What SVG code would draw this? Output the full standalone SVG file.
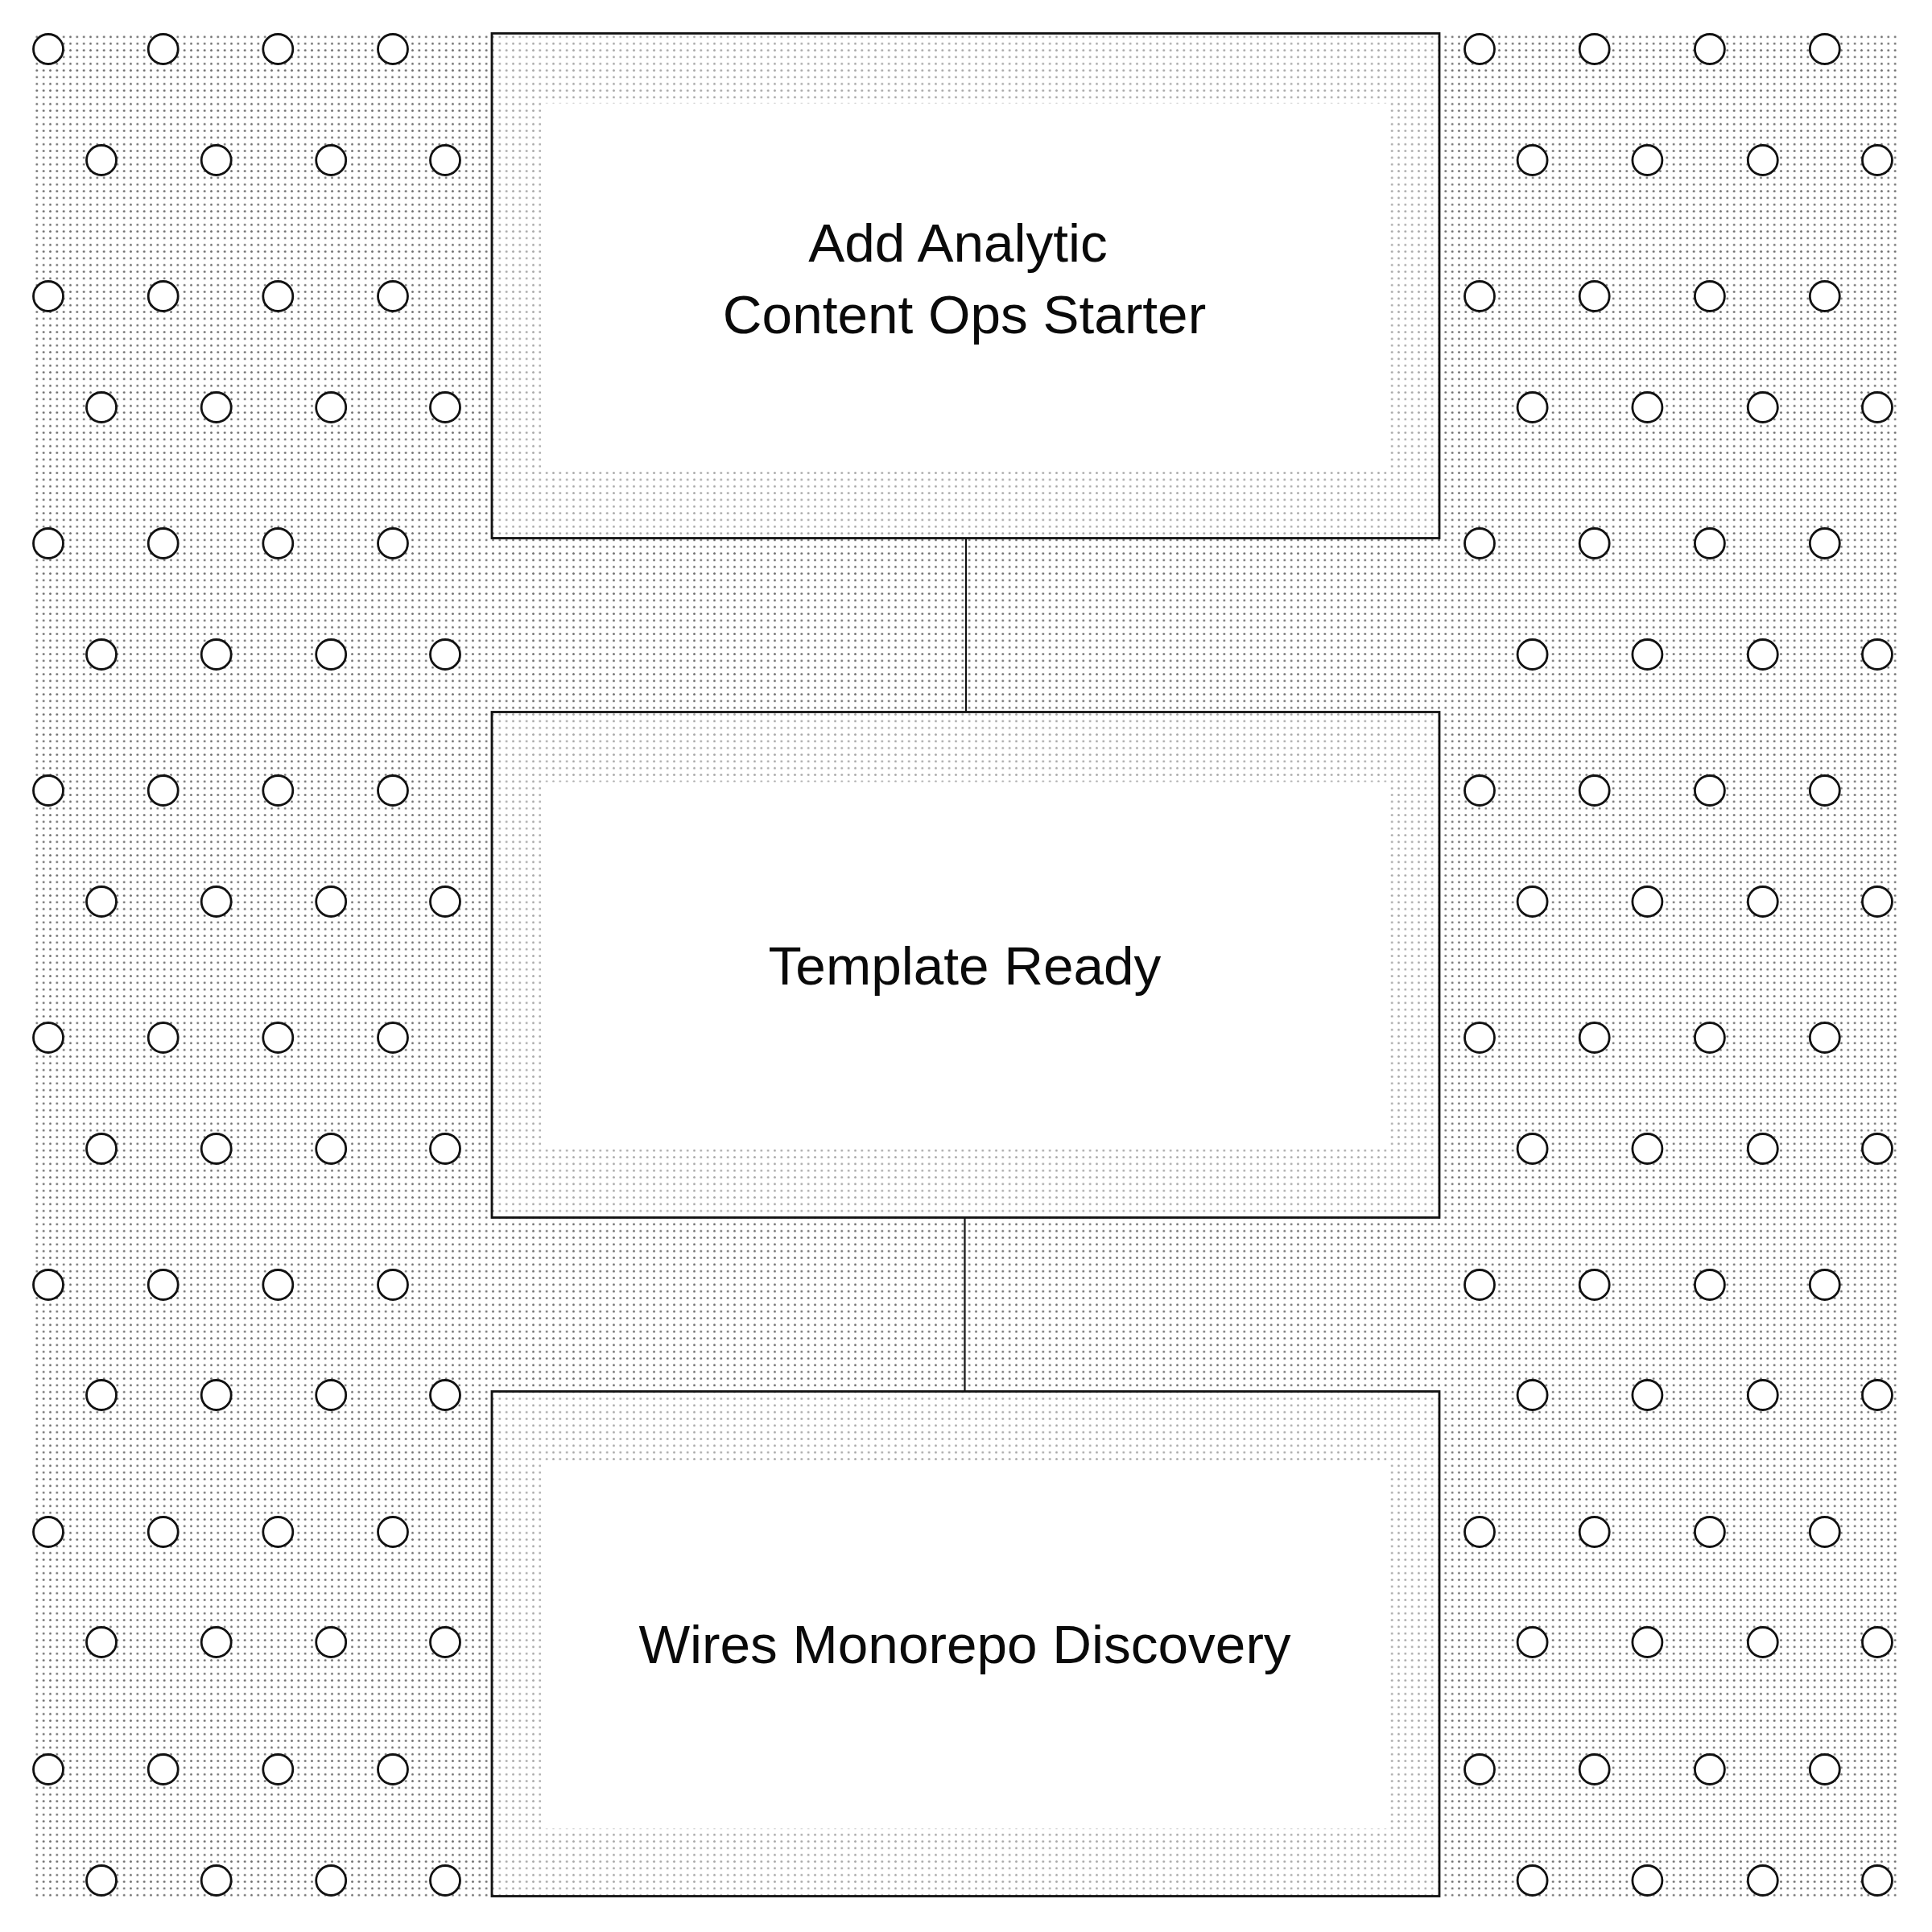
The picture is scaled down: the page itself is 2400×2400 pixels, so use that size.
<svg xmlns="http://www.w3.org/2000/svg" width="2400" height="2400" viewBox="0 0 2400 2400">
  <style>
    .peg { fill: #ffffff; stroke: #111111; stroke-width: 2.8; }
    .frame { fill: #ffffff; fill-opacity: 0.4; stroke: #111111; stroke-width: 2.8; }
    .core { fill: #ffffff; }
    .label { font-family: "Liberation Sans", Arial, sans-serif; font-size: 67.5px; fill: #0a0a0a; text-anchor: middle; }
    .wire { stroke: #111111; stroke-width: 2.2; fill: none; }
  </style>
  <defs>
    <pattern id="dots" x="0" y="0" width="8.3333" height="8.3333" patternUnits="userSpaceOnUse">
      <circle cx="4.1667" cy="4.1667" r="1.4" fill="#6e6e6e"/>
    </pattern>
    <g id="rowA">
      <circle class="peg" cx="60" cy="0" r="18.5"/>
      <circle class="peg" cx="202.7" cy="0" r="18.5"/>
      <circle class="peg" cx="345.3" cy="0" r="18.5"/>
      <circle class="peg" cx="488" cy="0" r="18.5"/>
      <circle class="peg" cx="1838" cy="0" r="18.5"/>
      <circle class="peg" cx="1980.7" cy="0" r="18.5"/>
      <circle class="peg" cx="2123.9" cy="0" r="18.5"/>
      <circle class="peg" cx="2266.8" cy="0" r="18.5"/>
    </g>
    <g id="rowB">
      <circle class="peg" cx="126" cy="0" r="18.5"/>
      <circle class="peg" cx="268.7" cy="0" r="18.5"/>
      <circle class="peg" cx="411.2" cy="0" r="18.5"/>
      <circle class="peg" cx="553" cy="0" r="18.5"/>
      <circle class="peg" cx="1903.6" cy="0" r="18.5"/>
      <circle class="peg" cx="2046.4" cy="0" r="18.5"/>
      <circle class="peg" cx="2189.8" cy="0" r="18.5"/>
      <circle class="peg" cx="2332" cy="0" r="18.5"/>
    </g>
  </defs>

  <rect x="0" y="0" width="2400" height="2400" fill="#ffffff"/>
  <rect id="backdrop" x="40" y="40" width="2320" height="2320" fill="url(#dots)"/>

  <g id="pegs">
    <use href="#rowA" y="61"/>
    <use href="#rowB" y="199"/>
    <use href="#rowA" y="368"/>
    <use href="#rowB" y="506"/>
    <use href="#rowA" y="675"/>
    <use href="#rowB" y="813"/>
    <use href="#rowA" y="982"/>
    <use href="#rowB" y="1120"/>
    <use href="#rowA" y="1289"/>
    <use href="#rowB" y="1427"/>
    <use href="#rowA" y="1596"/>
    <use href="#rowB" y="1733"/>
    <use href="#rowA" y="1903"/>
    <use href="#rowB" y="2040"/>
    <use href="#rowA" y="2198"/>
    <use href="#rowB" y="2336"/>
  </g>

  <g id="connectors">
    <line class="wire" x1="1200" y1="668.5" x2="1200" y2="884.5"/>
    <line class="wire" x1="1198.5" y1="1512.5" x2="1198.5" y2="1728.5"/>
  </g>

  <g id="node-add-analytic">
    <rect class="frame" x="611" y="41.5" width="1177" height="627"/>
    <rect class="core" x="672" y="128.5" width="1055" height="456"/>
    <text class="label" x="1190" y="325">Add Analytic</text>
    <text class="label" x="1198" y="414">Content Ops Starter</text>
  </g>

  <g id="node-template-ready">
    <rect class="frame" x="611" y="884.5" width="1177" height="628"/>
    <rect class="core" x="672" y="971.5" width="1055" height="456"/>
    <text class="label" x="1198.5" y="1223">Template Ready</text>
  </g>

  <g id="node-wires-monorepo">
    <rect class="frame" x="611" y="1728.5" width="1177" height="627"/>
    <rect class="core" x="672" y="1815.5" width="1055" height="456"/>
    <text class="label" x="1198.5" y="2066">Wires Monorepo Discovery</text>
  </g>
</svg>
